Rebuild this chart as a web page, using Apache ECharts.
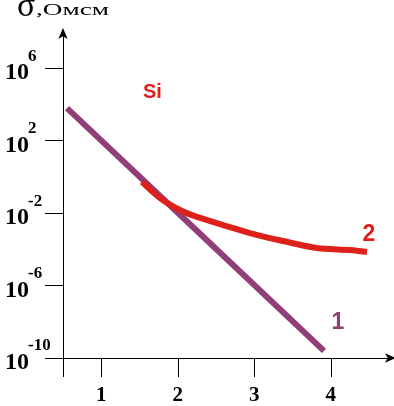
<!DOCTYPE html>
<html>
<head>
<meta charset="utf-8">
<script src="https://cdn.jsdelivr.net/npm/echarts@6/dist/echarts.min.js"></script>
<style>html,body{margin:0;padding:0;background:#fff}#c{width:394px;height:406px}</style>
</head>
<body>
<div id="c"></div>
<script>
// x: photon energy-like axis values; y: log10(sigma)
var xTicks = [1, 2, 3, 4];
var yTickExps = [-10, -6, -2, 2, 6];
// curve 1 (straight line)
var curve1X = [0.552, 2.291, 3.911];
var curve1Y = [3.80, -3.14, -9.61];
// curve 2
var curve2X = [1.533, 1.768, 2.029, 2.251, 2.683, 2.944, 3.375, 3.820, 4.251, 4.473];
var curve2Y = [-0.28, -1.17, -1.83, -2.21, -2.77, -3.10, -3.54, -3.93, -4.04, -4.15];
var labelSi = 'Si';
var label1 = '1';
var label2 = '2';
var titleSigma = 'σ';
var titleUnit = ',Омсм';

function pairs(xs, ys) { return xs.map(function (x, i) { return [x, ys[i]]; }); }

var chart = echarts.init(document.getElementById('c'));
chart.setOption({
  animation: false,
  backgroundColor: '#fff',
  grid: { left: 63, right: 2, top: 32, bottom: 48, containLabel: false },
  xAxis: {
    type: 'value', min: 0.5, max: 4.8,
    splitLine: { show: false },
    axisLine: { show: true, onZero: false, lineStyle: { color: '#000', width: 1 }, symbol: ['none', 'arrow'], symbolSize: [7, 11], symbolOffset: [0, 4] },
    axisTick: { show: true, length: 19, lineStyle: { color: '#000', width: 1 }, customValues: [0.5].concat(xTicks) },
    axisLabel: { customValues: xTicks, margin: 27, fontFamily: 'Liberation Serif', fontWeight: 'bold', fontSize: 21, color: '#000', verticalAlign: 'top' }
  },
  yAxis: {
    type: 'value', min: -10, max: 8,
    splitLine: { show: false },
    axisLine: { show: true, onZero: false, lineStyle: { color: '#000', width: 1 }, symbol: ['none', 'arrow'], symbolSize: [7, 11], symbolOffset: [0, 4] },
    axisTick: { show: true, length: 18, lineStyle: { color: '#000', width: 1 }, customValues: yTickExps },
    axisLabel: {
      customValues: yTickExps, margin: 58, align: 'left', verticalAlign: 'middle', padding: [0, 0, 7, 0],
      formatter: function (v) { return '{e|' + v + '}\n{a|10}'; },
      rich: {
        a: { fontFamily: 'Liberation Serif', fontWeight: 'bold', fontSize: 24, lineHeight: 17, color: '#000' },
        e: { fontFamily: 'Liberation Serif', fontWeight: 'bold', fontSize: 17, lineHeight: 17, color: '#000', padding: [0, 0, 0, 23] }
      }
    }
  },
  series: [
    { type: 'line', data: pairs(curve1X, curve1Y), showSymbol: false, symbol: 'none', lineStyle: { color: '#913F76', width: 6, cap: 'butt' }, z: 2 },
    { type: 'line', data: pairs(curve2X, curve2Y), showSymbol: false, symbol: 'none', smooth: 0.3, lineStyle: { color: '#DD2019', width: 6, cap: 'butt' }, z: 3 }
  ],
  graphic: [
    { type: 'text', x: 17, y: 7, style: { text: titleSigma, font: '34px "Liberation Serif"', fill: '#000', textAlign: 'left', align: 'left', textVerticalAlign: 'middle', verticalAlign: 'middle' } },
    { type: 'text', x: 36, y: 11, scaleX: 1.7, style: { text: titleUnit, font: '16px "Liberation Serif"', fill: '#000', textAlign: 'left', align: 'left', textVerticalAlign: 'middle', verticalAlign: 'middle' } },
    { type: 'text', x: 143, y: 92, style: { text: labelSi, font: 'bold 20px "Liberation Sans"', fill: '#DD2019', textAlign: 'left', align: 'left', textVerticalAlign: 'middle', verticalAlign: 'middle' } },
    { type: 'text', x: 369, y: 235, style: { text: label2, font: 'bold 23px "Liberation Sans"', fill: '#DD2019', textAlign: 'center', align: 'center', textVerticalAlign: 'middle', verticalAlign: 'middle' } },
    { type: 'text', x: 338, y: 323, style: { text: label1, font: 'bold 23px "Liberation Sans"', fill: '#913F76', textAlign: 'center', align: 'center', textVerticalAlign: 'middle', verticalAlign: 'middle' } }
  ]
});
</script>
</body>
</html>
